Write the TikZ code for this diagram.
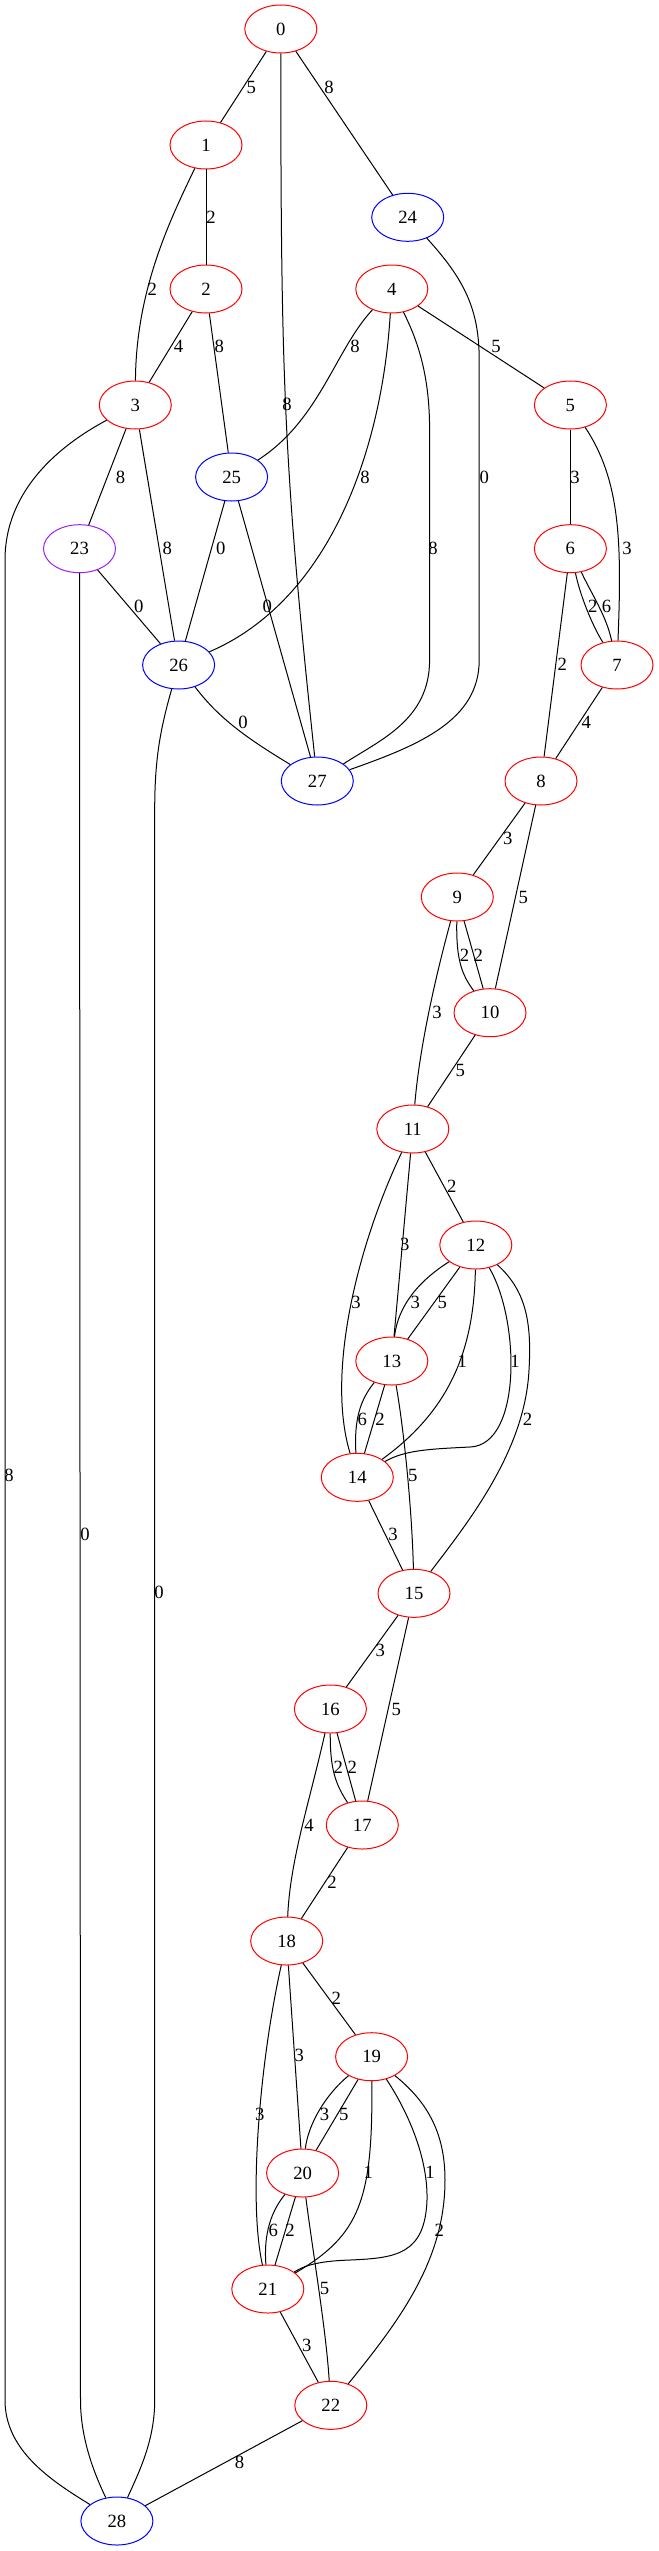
\documentclass[tikz,border=0pt]{standalone}
\usepackage{fontspec}
\setmainfont{Liberation Serif}
\usetikzlibrary{shapes.geometric}
\definecolor{gvpurple}{HTML}{A020F0}
\begin{document}
\begin{tikzpicture}[x=0.75pt,y=-0.75pt,
  vtx/.style={ellipse,draw=red,line width=0.75pt,minimum width=54pt,minimum height=36pt,inner sep=0pt,font=\fontsize{14}{16}\selectfont},
  bv/.style={vtx,draw=blue},
  pv/.style={vtx,draw=gvpurple},
  lbl/.style={inner sep=0pt,font=\fontsize{14}{16}\selectfont},
  edge/.style={line width=0.75pt,black}]
\useasboundingbox (0,0) rectangle (659,2551);
% nodes
\node[vtx] (n0) at (280.8,29) {0};
\node[vtx] (n1) at (206,145) {1};
\node[bv]  (n24) at (407.7,217.3) {24};
\node[vtx] (n2) at (206,289) {2};
\node[vtx] (n4) at (391.8,289) {4};
\node[vtx] (n3) at (135.3,405) {3};
\node[vtx] (n5) at (570.4,405) {5};
\node[bv]  (n25) at (231.6,477) {25};
\node[pv]  (n23) at (79.5,548.7) {23};
\node[vtx] (n6) at (570.4,548.7) {6};
\node[bv]  (n26) at (178.6,665) {26};
\node[vtx] (n7) at (617,665) {7};
\node[bv]  (n27) at (317.3,781) {27};
\node[vtx] (n8) at (541,781) {8};
\node[vtx] (n9) at (457.3,897) {9};
\node[vtx] (n10) at (490,1012.7) {10};
\node[vtx] (n11) at (412.8,1129) {11};
\node[vtx] (n12) at (475.8,1245) {12};
\node[vtx] (n13) at (391.8,1361) {13};
\node[vtx] (n14) at (357.3,1477.3) {14};
\node[vtx] (n15) at (414,1593.3) {15};
\node[vtx] (n16) at (330.4,1709) {16};
\node[vtx] (n17) at (362.3,1825) {17};
\node[vtx] (n18) at (286.7,1941) {18};
\node[vtx] (n19) at (371.6,2056.7) {19};
\node[vtx] (n20) at (302.6,2173) {20};
\node[vtx] (n21) at (267.8,2289) {21};
\node[vtx] (n22) at (330.8,2405.3) {22};
\node[bv]  (n28) at (116.9,2521) {28};
% edges
\draw[edge] (n0) -- (n1);
\draw[edge] (n0) -- (n24);
\draw[edge] (n0) .. controls (280.8,380) and (284,470) .. (n27);
\draw[edge] (n1) -- (n2);
\draw[edge] (n1) .. controls (170,220) and (136,290) .. (n3);
\draw[edge] (n2) -- (n3);
\draw[edge] (n2) -- (n25);
\draw[edge] (n24) .. controls (465,280) and (479.2,310) .. (479.2,360) -- (479.2,660) .. controls (479.2,720) and (420,745) .. (n27);
\draw[edge] (n4) .. controls (335,350) and (320,420) .. (n25);
\draw[edge] (n4) .. controls (382,450) and (330,600) .. (n26);
\draw[edge] (n4) .. controls (420,345) and (429.6,380) .. (429.6,430) -- (429.6,660) .. controls (429.6,720) and (380,740) .. (n27);
\draw[edge] (n4) -- (n5);
\draw[edge] (n3) -- (n23);
\draw[edge] (n3) -- (n26);
\draw[edge] (n3) .. controls (60,445) and (5,490) .. (5,560) -- (5,2400) .. controls (5,2450) and (50,2480) .. (n28);
\draw[edge] (n25) -- (n26);
\draw[edge] (n25) -- (n27);
\draw[edge] (n23) -- (80.5,2400) .. controls (80.5,2440) and (95,2475) .. (n28);
\draw[edge] (n23) -- (n26);
\draw[edge] (n26) .. controls (220,720) and (250,740) .. (n27);
\draw[edge] (n26) .. controls (160,730) and (154.7,760) .. (154.7,810) -- (154.7,2400) .. controls (154.7,2440) and (140,2470) .. (n28);
\draw[edge] (n5) -- (n6);
\draw[edge] (n5) .. controls (620,480) and (622,540) .. (n7);
\draw[edge] (n6) .. controls (580,595) and (592,625) .. (n7);
\draw[edge] (n6) .. controls (592,595) and (606,615) .. (n7);
\draw[edge] (n6) -- (n8);
\draw[edge] (n7) -- (n8);
\draw[edge] (n8) -- (n9);
\draw[edge] (n8) -- (n10);
\draw[edge] (n9) .. controls (456,960) and (462,975) .. (n10);
\draw[edge] (n9) -- (n10);
\draw[edge] (n9) .. controls (440,960) and (420,1040) .. (n11);
\draw[edge] (n10) -- (n11);
\draw[edge] (n11) -- (n12);
\draw[edge] (n11) -- (n13);
\draw[edge] (n11) .. controls (360,1240) and (325,1370) .. (n14);
\draw[edge] (n12) .. controls (420,1280) and (398,1305) .. (n13);
\draw[edge] (n12) -- (n13);
\draw[edge] (n12) .. controls (474,1350) and (450,1410) .. (n14);
\draw[edge] (n12) .. controls (520,1320) and (522,1445) .. (470,1447) .. controls (430,1449) and (405,1450) .. (n14);
\draw[edge] (n12) .. controls (525,1290) and (532,1320) .. (529,1370) .. controls (525,1450) and (470,1520) .. (n15);
\draw[edge] (n13) .. controls (360,1400) and (354,1420) .. (n14);
\draw[edge] (n13) -- (n14);
\draw[edge] (n13) .. controls (404,1430) and (412,1510) .. (n15);
\draw[edge] (n14) -- (n15);
\draw[edge] (n15) -- (n16);
\draw[edge] (n15) -- (n17);
\draw[edge] (n16) .. controls (330,1770) and (336,1785) .. (n17);
\draw[edge] (n16) -- (n17);
\draw[edge] (n16) .. controls (310,1800) and (290,1860) .. (n18);
\draw[edge] (n17) -- (n18);
\draw[edge] (n18) -- (n19);
\draw[edge] (n18) -- (n20);
\draw[edge] (n18) .. controls (260,2060) and (248,2200) .. (n21);
\draw[edge] (n19) .. controls (325,2095) and (308,2125) .. (n20);
\draw[edge] (n19) -- (n20);
\draw[edge] (n19) .. controls (373,2200) and (360,2235) .. (n21);
\draw[edge] (n19) .. controls (410,2115) and (428,2160) .. (427,2200) .. controls (425,2255) and (395,2258) .. (350,2260) .. controls (320,2261) and (305,2265) .. (n21);
\draw[edge] (n19) .. controls (425,2100) and (445,2130) .. (445,2180) .. controls (445,2260) and (400,2320) .. (n22);
\draw[edge] (n20) .. controls (268,2215) and (264,2240) .. (n21);
\draw[edge] (n20) -- (n21);
\draw[edge] (n20) .. controls (314,2260) and (326,2330) .. (n22);
\draw[edge] (n21) -- (n22);
\draw[edge] (n22) -- (n28);
% labels
\node[lbl] (l1) at (251.4,87.3) {5};
\node[lbl] (l2) at (329.1,87.3) {8};
\node[lbl] (l3) at (287.1,404.3) {8};
\node[lbl] (l4) at (211,217.3) {2};
\node[lbl] (l5) at (152.2,289) {2};
\node[lbl] (l6) at (178.6,346.7) {4};
\node[lbl] (l7) at (219.4,346.7) {8};
\node[lbl] (l8) at (484.2,477) {0};
\node[lbl] (l9) at (355,346.7) {8};
\node[lbl] (l10) at (365,477) {8};
\node[lbl] (l11) at (433,548.7) {8};
\node[lbl] (l12) at (496,346.7) {5};
\node[lbl] (l13) at (120.6,477) {8};
\node[lbl] (l14) at (167.3,548.7) {8};
\node[lbl] (l15) at (9,1475) {8};
\node[lbl] (l16) at (220.7,548.7) {0};
\node[lbl] (l17) at (267.3,606.7) {0};
\node[lbl] (l18) at (138.7,606.7) {0};
\node[lbl] (l19) at (85,1534) {0};
\node[lbl] (l20) at (243,722.3) {0};
\node[lbl] (l21) at (159,1592.7) {0};
\node[lbl] (l22) at (575,477) {3};
\node[lbl] (l23) at (627,548.7) {3};
\node[lbl] (l24) at (592.7,606.7) {2};
\node[lbl] (l25) at (606.5,606.7) {6};
\node[lbl] (l26) at (562.4,664.3) {2};
\node[lbl] (l27) at (586.4,722.3) {4};
\node[lbl] (l28) at (507.8,838.3) {3};
\node[lbl] (l29) at (523.3,897) {5};
\node[lbl] (l30) at (464.5,955) {2};
\node[lbl] (l31) at (478.3,955) {2};
\node[lbl] (l32) at (437,1012.7) {3};
\node[lbl] (l33) at (460.3,1070.7) {5};
\node[lbl] (l34) at (451.9,1186.7) {2};
\node[lbl] (l35) at (404.8,1244.3) {3};
\node[lbl] (l36) at (356,1302.7) {3};
\node[lbl] (l37) at (415.3,1302.7) {3};
\node[lbl] (l38) at (442.2,1302.7) {5};
\node[lbl] (l39) at (462.4,1361) {1};
\node[lbl] (l40) at (515,1361) {1};
\node[lbl] (l41) at (527.5,1419.3) {2};
\node[lbl] (l42) at (362.3,1419.3) {6};
\node[lbl] (l43) at (380,1419.3) {2};
\node[lbl] (l44) at (412.8,1475) {5};
\node[lbl] (l45) at (393,1534) {3};
\node[lbl] (l46) at (380.4,1650) {3};
\node[lbl] (l47) at (396.4,1709) {5};
\node[lbl] (l48) at (338.4,1767.3) {2};
\node[lbl] (l49) at (352.2,1767.3) {2};
\node[lbl] (l50) at (309,1825) {4};
\node[lbl] (l51) at (332,1882.7) {2};
\node[lbl] (l52) at (336.3,1998.3) {2};
\node[lbl] (l53) at (299.3,2055.7) {3};
\node[lbl] (l54) at (259.8,2114.3) {3};
\node[lbl] (l55) at (324.5,2114.3) {3};
\node[lbl] (l56) at (343.8,2114.3) {5};
\node[lbl] (l57) at (368.2,2172.7) {1};
\node[lbl] (l58) at (430,2172.7) {1};
\node[lbl] (l59) at (439.3,2230.7) {2};
\node[lbl] (l60) at (273.2,2230.7) {6};
\node[lbl] (l61) at (290,2230.7) {2};
\node[lbl] (l62) at (324.5,2288.3) {5};
\node[lbl] (l63) at (306.8,2345.7) {3};
\node[lbl] (l64) at (239.6,2462.3) {8};
\end{tikzpicture}
\end{document}
